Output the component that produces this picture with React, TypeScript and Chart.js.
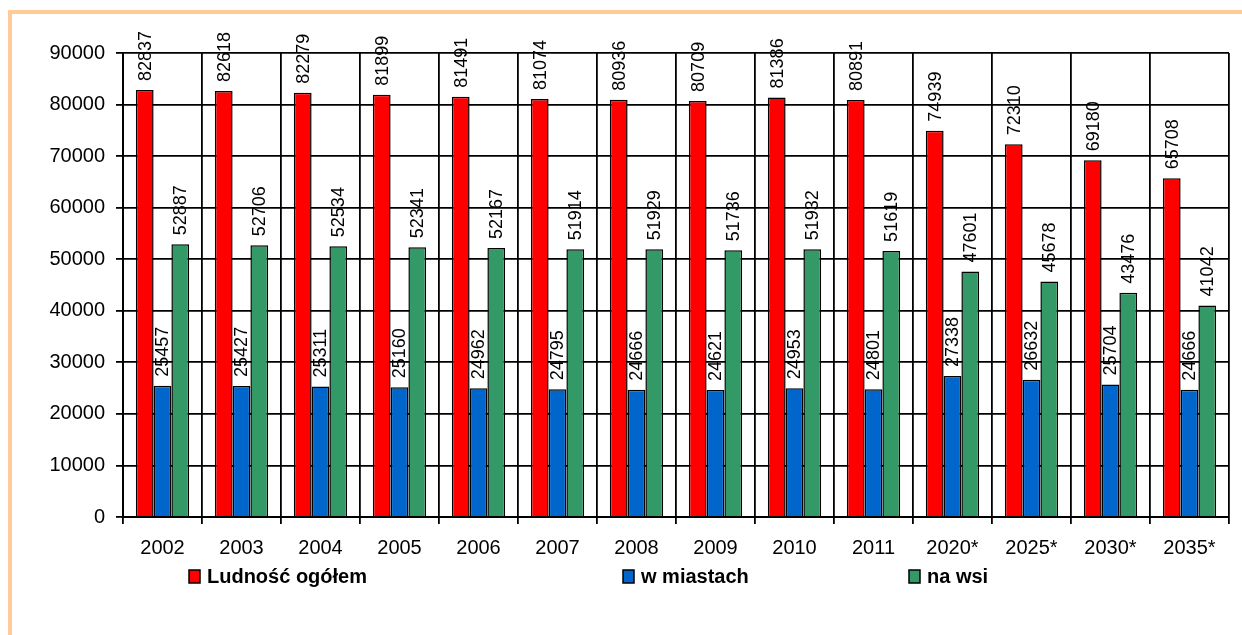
import React, { useEffect, useRef } from 'react';
import { Chart, registerables } from 'chart.js';

Chart.register(...registerables);

const categories = ['2002', '2003', '2004', '2005', '2006', '2007', '2008', '2009', '2010', '2011', '2020*', '2025*', '2030*', '2035*'];
const totalPopulation = [82837, 82618, 82279, 81899, 81491, 81074, 80936, 80709, 81386, 80891, 74939, 72310, 69180, 65708];
const urbanPopulation = [25457, 25427, 25311, 25160, 24962, 24795, 24666, 24621, 24953, 24801, 27338, 26632, 25704, 24666];
const ruralPopulation = [52887, 52706, 52534, 52341, 52167, 51914, 51929, 51736, 51932, 51619, 47601, 45678, 43476, 41042];
const seriesLabels = ['Ludność ogółem', 'w miastach', 'na wsi'];
const seriesColors = ['#FF0000', '#0066CC', '#339966'];
const yMin = 0;
const yMax = 90000;
const yStep = 10000;

const FONT = 'Arial, "Liberation Sans", sans-serif';

const dataLabelPlugin = {
  id: 'dataLabels',
  afterDatasetsDraw(chart: any) {
    const ctx = chart.ctx;
    ctx.save();
    ctx.fillStyle = '#000';
    ctx.font = `18px ${FONT}`;
    ctx.textAlign = 'left';
    ctx.textBaseline = 'middle';
    chart.data.datasets.forEach((ds: any, di: number) => {
      const meta = chart.getDatasetMeta(di);
      meta.data.forEach((el: any, i: number) => {
        ctx.save();
        ctx.translate(el.x, el.y - 9);
        ctx.rotate(-Math.PI / 2);
        ctx.fillText(String(ds.data[i]), 0, 1);
        ctx.restore();
      });
    });
    ctx.restore();
  },
};

const legendPositions = [189, 623, 909];

const customLegendPlugin = {
  id: 'customLegend',
  afterDraw(chart: any) {
    const ctx = chart.ctx;
    ctx.save();
    const cy = 576;
    chart.data.datasets.forEach((ds: any, i: number) => {
      const x = legendPositions[i];
      ctx.fillStyle = ds.backgroundColor;
      ctx.fillRect(x, cy - 6, 11, 13);
      ctx.strokeStyle = '#000';
      ctx.lineWidth = 1.5;
      ctx.strokeRect(x, cy - 6, 11, 13);
      ctx.fillStyle = '#000';
      ctx.font = `bold 20px ${FONT}`;
      ctx.textAlign = 'left';
      ctx.textBaseline = 'middle';
      ctx.fillText(ds.label, x + 18, cy + 1);
    });
    ctx.restore();
  },
};

export default function App() {
  const canvasRef = useRef<HTMLCanvasElement | null>(null);

  useEffect(() => {
    if (!canvasRef.current) return;
    const datasets = [totalPopulation, urbanPopulation, ruralPopulation].map((d, i) => ({
      label: seriesLabels[i],
      data: d,
      backgroundColor: seriesColors[i],
      borderColor: '#000',
      borderWidth: 1.5,
      categoryPercentage: 0.675,
      barPercentage: 1.0,
    }));
    const chart = new Chart(canvasRef.current, {
      type: 'bar',
      data: { labels: categories, datasets },
      options: {
        responsive: false,
        animation: false,
        layout: { padding: { top: 53, right: 13, left: 0, bottom: 0 } },
        plugins: {
          legend: { display: false },
          tooltip: { enabled: false },
          title: { display: false },
        },
        scales: {
          x: {
            grid: {
              offset: true,
              color: '#000',
              lineWidth: 1.8,
              tickLength: 7,
              tickColor: '#000',
              drawTicks: true,
            },
            border: { color: '#000', width: 2 },
            ticks: {
              color: '#000',
              font: { family: FONT, size: 20 },
              padding: 12,
              maxRotation: 0,
              autoSkip: false,
            },
            afterFit(scale: any) {
              scale.height = 118;
            },
          },
          y: {
            min: yMin,
            max: yMax,
            grid: {
              color: '#000',
              lineWidth: 1.8,
              tickLength: 7,
              tickColor: '#000',
            },
            border: { color: '#000', width: 2 },
            ticks: {
              stepSize: yStep,
              color: '#000',
              font: { family: FONT, size: 20 },
              padding: 11,
              callback: (v: any) => String(v),
            },
            afterFit(scale: any) {
              scale.width = 123;
            },
          },
        },
      },
      plugins: [dataLabelPlugin, customLegendPlugin],
    });
    return () => chart.destroy();
  }, []);

  return (
    <div style={{ position: 'fixed', left: 0, top: 0, width: 1242, height: 635, overflow: 'hidden', background: '#fff' }}>
      <div
        style={{
          position: 'absolute',
          left: 8,
          top: 10,
          width: 1400,
          height: 800,
          borderTop: '4px solid #FFCC99',
          borderLeft: '4px solid #FFCC99',
        }}
      />
      <canvas
        ref={canvasRef}
        width={1242}
        height={635}
        style={{ position: 'absolute', left: 0, top: 0, width: 1242, height: 635 }}
      />
    </div>
  );
}
